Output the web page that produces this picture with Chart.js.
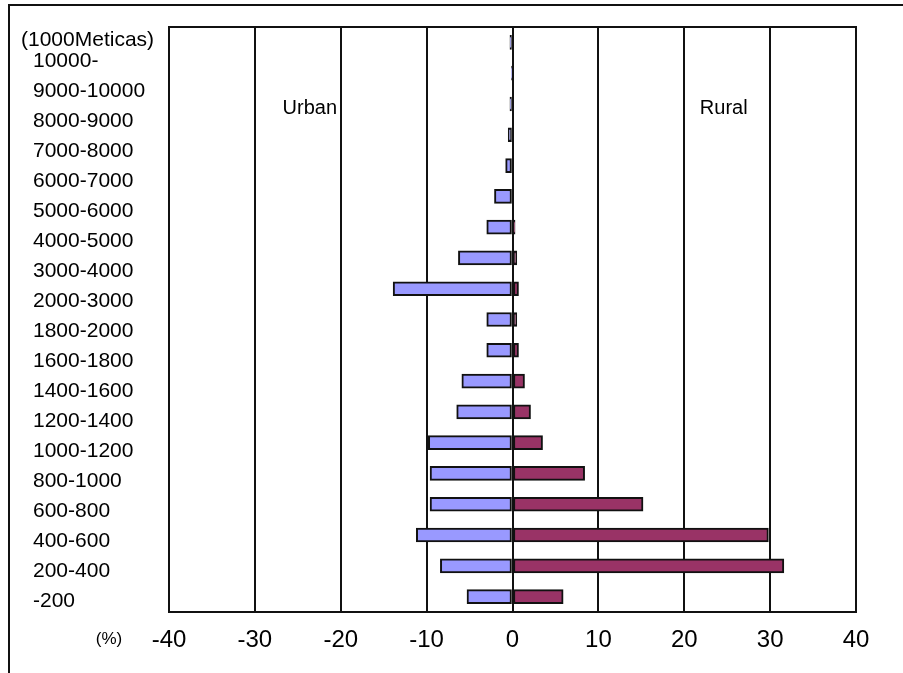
<!DOCTYPE html>
<html>
<head>
<meta charset="utf-8">
<script src="https://cdn.jsdelivr.net/npm/chart.js@4.4.1/dist/chart.umd.min.js"></script>
<style>
  html, body { margin: 0; padding: 0; background: #fff; }
  #wrap { position: relative; width: 903px; height: 673px; overflow: hidden; }
  #frame {
    position: absolute; left: 8px; top: 4px; width: 1000px; height: 1000px;
    border-top: 2px solid #111; border-left: 2px solid #111; pointer-events: none;
  }
  canvas { position: absolute; left: 0; top: 0; }
</style>
</head>
<body>
<div id="wrap">
  <canvas id="c" width="903" height="673"></canvas>
  <div id="frame"></div>
</div>
<script>
// Household income bands (1000 Meticas), lowest band first
const incomeBands = [
  '-200', '200-400', '400-600', '600-800', '800-1000',
  '1000-1200', '1200-1400', '1400-1600', '1600-1800', '1800-2000',
  '2000-3000', '3000-4000', '4000-5000', '5000-6000', '6000-7000',
  '7000-8000', '8000-9000', '9000-10000', '10000-'
];
// Share of households (%) — urban drawn to the left, rural to the right
const urbanShare = [
  -5.3, -8.4, -11.2, -9.6, -9.6,
  -9.8, -6.5, -5.9, -3.0, -3.0,
  -13.9, -6.3, -3.0, -2.1, -0.8,
  -0.5, -0.3, -0.1, -0.3
];
const ruralShare = [
  5.9, 31.6, 29.8, 15.2, 8.4,
  3.5, 2.1, 1.4, 0.7, 0.5,
  0.7, 0.5, 0.3, 0, 0,
  0, 0, 0, 0
];
const xTickValues = [-40, -30, -20, -10, 0, 10, 20, 30, 40];

const FONT = "'Liberation Sans', Arial, sans-serif";
Chart.defaults.font.family = FONT;
Chart.defaults.color = '#000';

// Frame line on top of the plot area plus the free-standing captions
const captions = {
  id: 'captions',
  afterDatasetsDraw(chart) {
    const { ctx, chartArea, scales } = chart;
    ctx.save();
    ctx.strokeStyle = '#111';
    ctx.lineWidth = 2;
    ctx.beginPath();
    ctx.moveTo(chartArea.left - 1, chartArea.top);
    ctx.lineTo(chartArea.right + 1, chartArea.top);
    ctx.stroke();

    ctx.fillStyle = '#000';
    ctx.textBaseline = 'middle';
    ctx.font = '21px ' + FONT;
    ctx.textAlign = 'left';
    ctx.fillText('(1000Meticas)', 21, 40);

    ctx.textAlign = 'center';
    ctx.font = '20px ' + FONT;
    const yCap = chartArea.top + 81;
    ctx.fillText('Urban', scales.x.getPixelForValue(-23.6), yCap);
    ctx.fillText('Rural', scales.x.getPixelForValue(24.6), yCap);

    ctx.font = '17px ' + FONT;
    ctx.fillText('(%)', 109, 639);
    ctx.restore();
  }
};

new Chart(document.getElementById('c'), {
  type: 'bar',
  data: {
    labels: incomeBands,
    datasets: [
      {
        label: 'Urban',
        data: urbanShare,
        backgroundColor: '#9999ff',
        borderColor: '#111',
        borderWidth: 2,
        borderSkipped: false,
        barThickness: 14,
        yAxisID: 'y'
      },
      {
        label: 'Rural',
        data: ruralShare,
        backgroundColor: '#993366',
        borderColor: '#111',
        borderWidth: 2,
        borderSkipped: false,
        barThickness: 14,
        yAxisID: 'y'
      }
    ]
  },
  options: {
    indexAxis: 'y',
    responsive: false,
    devicePixelRatio: 1,
    animation: false,
    layout: { padding: { left: 33, right: 47, top: 27, bottom: 0 } },
    plugins: {
      legend: { display: false },
      tooltip: { enabled: false },
      title: { display: false }
    },
    scales: {
      x: {
        type: 'linear',
        position: 'bottom',
        stacked: true,
        min: -40,
        max: 40,
        afterBuildTicks(scale) {
          scale.ticks = xTickValues.map(v => ({ value: v }));
        },
        afterFit(scale) { scale.height = 61; },
        ticks: {
          font: { size: 24 },
          padding: 14,
          callback: v => String(v)
        },
        grid: {
          color: '#111',
          lineWidth: 2,
          drawTicks: false
        },
        border: { display: true, color: '#111', width: 2 }
      },
      y: {
        type: 'category',
        stacked: true,
        reverse: true,
        display: false,
        offset: true
      },
      // Left-hand column of band names
      yl: {
        type: 'linear',
        position: 'left',
        offset: false,
        min: -0.3667,
        max: 19.133,
        afterBuildTicks(scale) {
          scale.min = -0.3667;
          scale.max = 19.133;
          scale.ticks = incomeBands.map((_, i) => ({ value: i }));
        },
        afterFit(scale) { scale.width = 136; },
        ticks: {
          font: { size: 21 },
          crossAlign: 'far',
          padding: 0,
          callback: v => incomeBands[v]
        },
        grid: { display: false, drawTicks: false, offset: false },
        border: { display: false }
      }
    }
  },
  plugins: [captions]
});
</script>
</body>
</html>
